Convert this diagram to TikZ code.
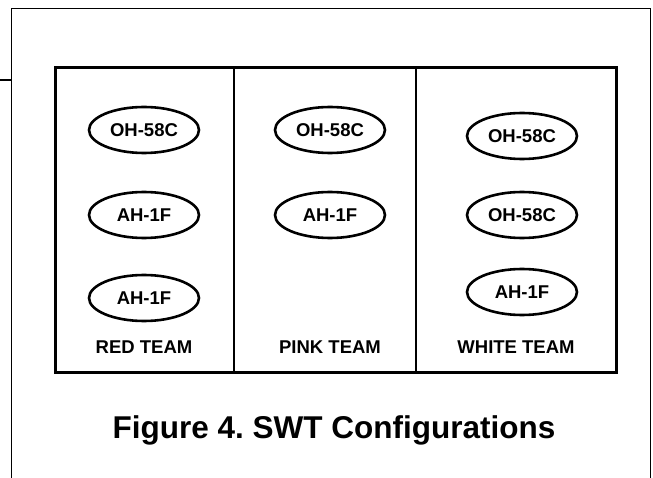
\documentclass[tikz,border=0pt]{standalone}
\usepackage{fontspec}
\setmainfont{Liberation Sans}
\usetikzlibrary{shapes.geometric}

\begin{document}
\frenchspacing
\begin{tikzpicture}[x=1pt, y=-1pt,
  heli/.style={ellipse, draw, line width=2.6pt, minimum width=110pt, minimum height=46pt, inner sep=0pt, font=\fontsize{18.5}{20}\selectfont\bfseries},
  team/.style={anchor=base, font=\fontsize{18.5}{20}\selectfont\bfseries},
  frame/.style={line width=1.8pt}
]
\useasboundingbox (0,0) rectangle (653,478);

% outer frame
\draw[frame] (11.5,478) -- (11.5,8.5) -- (650.5,8.5) -- (650.5,478);
\draw[frame] (0,80) -- (11.5,80);

% team box
\draw[line width=3pt] (55,68) rectangle (616.5,372);
\draw[line width=2pt] (234,68) -- (234,372);
\draw[line width=2pt] (415.5,68) -- (415.5,372);

\node[heli] (red1) at (144,130) {OH-58C};
\node[heli] (red2) at (144,215) {AH-1F};
\node[heli] (red3) at (144,298) {AH-1F};

\node[heli] (pink1) at (330,130) {OH-58C};
\node[heli] (pink2) at (330,215) {AH-1F};

\node[heli] (white1) at (522,136) {OH-58C};
\node[heli] (white2) at (522,215) {OH-58C};
\node[heli] (white3) at (522,292) {AH-1F};

\node[team] (redteam) at (144,353) {RED TEAM};
\node[team] (pinkteam) at (330,353) {PINK TEAM};
\node[team] (whiteteam) at (516,353) {WHITE TEAM};

\node[anchor=base, font=\fontsize{31.5}{34}\selectfont\bfseries] (caption) at (334,438) {Figure 4. SWT Configurations};
\end{tikzpicture}
\end{document}
